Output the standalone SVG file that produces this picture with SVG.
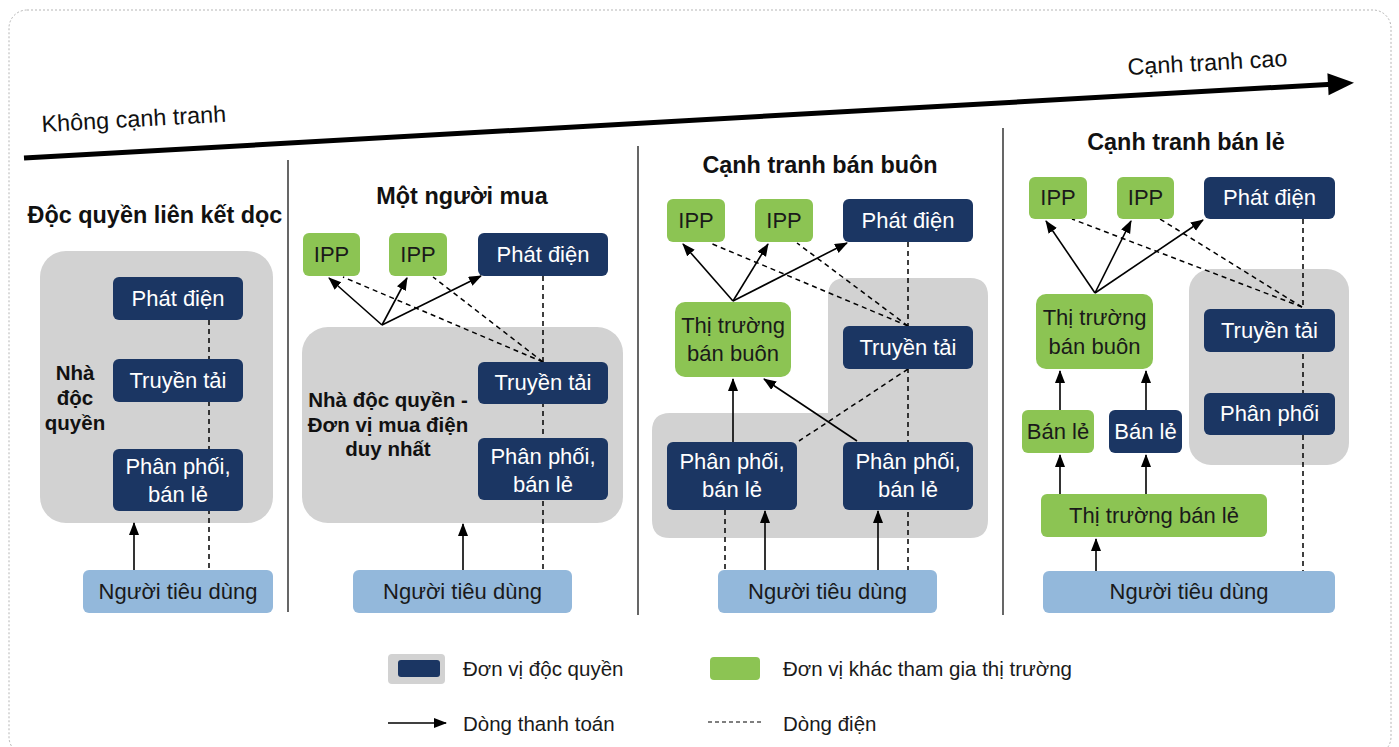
<svg xmlns="http://www.w3.org/2000/svg" width="1399" height="747" viewBox="0 0 1399 747">
  <defs>
    <marker id="arrow" markerUnits="userSpaceOnUse" markerWidth="13" markerHeight="11" refX="12" refY="5" orient="auto">
      <path d="M0,0 L13,5 L0,10 z" fill="#000"/>
    </marker>
    <style>
      text { font-family: "Liberation Sans", Arial, sans-serif; }
      .navy { fill: #1b3663; }
      .green { fill: #8cc453; }
      .zone { fill: #d2d2d2; }
      .consumer { fill: #93b8db; }
      .wt { fill: #ffffff; font-size: 22px; text-anchor: middle; }
      .dt { fill: #1a1a1a; font-size: 22px; text-anchor: middle; }
      .title { fill: #111; font-size: 23.4px; font-weight: bold; text-anchor: middle; }
      .label { fill: #111; font-size: 20.5px; font-weight: bold; text-anchor: middle; }
      .axis { fill: #111; font-size: 23.4px; }
      .pay { stroke: #000; stroke-width: 1.6; fill: none; marker-end: url(#arrow); }
      .power { stroke: #000; stroke-width: 1.5; fill: none; stroke-dasharray: 5 4; }
      .sep { stroke: #000; stroke-width: 1.2; }
      .legend { fill: #1a1a1a; font-size: 20.5px; }
    </style>
  </defs>

  <rect width="1399" height="747" fill="#ffffff"/>
  <rect x="9" y="10" width="1382" height="745" rx="18" fill="none" stroke="#b5b5b5" stroke-width="1" stroke-dasharray="2 2"/>

  <!-- competition scale -->
  <g id="scale">
    <line x1="24" y1="158" x2="1332" y2="84.2" stroke="#000" stroke-width="5"/>
    <polygon points="1354,82.8 1328.6,95.3 1327.4,73.3" fill="#000"/>
    <text class="axis" x="42" y="132" transform="rotate(-3.2 42 132)">Không cạnh tranh</text>
    <text class="axis" x="1128" y="75" transform="rotate(-3.2 1128 75)">Cạnh tranh cao</text>
  </g>

  <!-- panel separators -->
  <g id="separators">
    <line class="sep" x1="288" y1="160" x2="288" y2="612"/>
    <line class="sep" x1="638" y1="146" x2="638" y2="615"/>
    <line class="sep" x1="1003" y1="128" x2="1003" y2="615"/>
  </g>

  <!-- grouping zones -->
  <g id="zones">
    <rect class="zone" x="40" y="251" width="233" height="272" rx="26"/>
    <rect class="zone" x="302" y="327" width="321" height="196" rx="26"/>
    <path class="zone" d="M846 278 H970 Q988 278 988 296 V520 Q988 538 970 538 H670 Q652 538 652 520 V431 Q652 413 670 413 H828 V296 Q828 278 846 278 Z"/>
    <rect class="zone" x="1189" y="269" width="160" height="196" rx="22"/>
  </g>

  <!-- connectors -->
  <g id="connectors">
    <!-- panel 1 -->
    <line class="power" x1="209" y1="320" x2="209" y2="570"/>
    <line class="pay" x1="134" y1="570" x2="134" y2="523"/>
    <!-- panel 2 -->
    <line class="power" x1="543" y1="276" x2="543" y2="570"/>
    <line class="power" x1="543" y1="362" x2="343" y2="277"/>
    <line class="power" x1="543" y1="362" x2="433" y2="277"/>
    <line class="pay" x1="382" y1="325" x2="329" y2="278"/>
    <line class="pay" x1="382" y1="325" x2="407" y2="278"/>
    <line class="pay" x1="382" y1="325" x2="481" y2="276"/>
    <line class="pay" x1="463" y1="570" x2="463" y2="524"/>
    <!-- panel 3 -->
    <line class="power" x1="908" y1="242" x2="908" y2="570"/>
    <line class="power" x1="908" y1="326" x2="710" y2="243"/>
    <line class="power" x1="908" y1="326" x2="797" y2="243"/>
    <line class="power" x1="908" y1="369" x2="799" y2="441"/>
    <line class="power" x1="725" y1="510" x2="725" y2="570"/>
    <line class="pay" x1="733" y1="301" x2="683" y2="244"/>
    <line class="pay" x1="733" y1="301" x2="768" y2="244"/>
    <line class="pay" x1="733" y1="301" x2="847" y2="243"/>
    <line class="pay" x1="733" y1="442" x2="733" y2="379"/>
    <line class="pay" x1="857" y1="441" x2="764" y2="379"/>
    <line class="pay" x1="765" y1="570" x2="765" y2="511"/>
    <line class="pay" x1="878" y1="570" x2="878" y2="511"/>
    <!-- panel 4 -->
    <line class="power" x1="1303" y1="219" x2="1303" y2="571"/>
    <line class="power" x1="1302" y1="307" x2="1072" y2="219"/>
    <line class="power" x1="1302" y1="307" x2="1160" y2="219"/>
    <line class="pay" x1="1095" y1="293" x2="1046" y2="221"/>
    <line class="pay" x1="1095" y1="293" x2="1131" y2="221"/>
    <line class="pay" x1="1095" y1="293" x2="1203" y2="220"/>
    <line class="pay" x1="1060" y1="410" x2="1060" y2="371"/>
    <line class="pay" x1="1146" y1="410" x2="1146" y2="371"/>
    <line class="pay" x1="1060" y1="494" x2="1060" y2="455"/>
    <line class="pay" x1="1146" y1="494" x2="1146" y2="455"/>
    <line class="pay" x1="1096" y1="571" x2="1096" y2="539"/>
  </g>

  <!-- Panel 1: vertically integrated monopoly -->
  <g id="p1-title"><text class="title" x="155" y="223">Độc quyền liên kết dọc</text></g>
  <g id="p1-label">
    <text class="label" x="75" y="380">Nhà</text>
    <text class="label" x="75" y="405">độc</text>
    <text class="label" x="75" y="430">quyền</text>
  </g>
  <g id="p1-gen"><rect class="navy" x="113" y="277" width="130" height="43" rx="6"/><text class="wt" x="178" y="306">Phát điện</text></g>
  <g id="p1-trans"><rect class="navy" x="113" y="359" width="130" height="43" rx="6"/><text class="wt" x="178" y="388">Truyền tải</text></g>
  <g id="p1-dist"><rect class="navy" x="113" y="449" width="130" height="62" rx="6"/><text class="wt" x="178" y="474">Phân phối,</text><text class="wt" x="178" y="502">bán lẻ</text></g>
  <g id="p1-consumer"><rect class="consumer" x="83" y="570" width="190" height="43" rx="6"/><text class="dt" x="178" y="599">Người tiêu dùng</text></g>

  <!-- Panel 2: single buyer -->
  <g id="p2-title"><text class="title" x="462" y="204">Một người mua</text></g>
  <g id="p2-label">
    <text class="label" x="388" y="407">Nhà độc quyền -</text>
    <text class="label" x="388" y="432">Đơn vị mua điện</text>
    <text class="label" x="388" y="456">duy nhất</text>
  </g>
  <g id="p2-ipp1"><rect class="green" x="303" y="233" width="57" height="43" rx="6"/><text class="dt" x="331.5" y="262">IPP</text></g>
  <g id="p2-ipp2"><rect class="green" x="389" y="233" width="58" height="43" rx="6"/><text class="dt" x="418" y="262">IPP</text></g>
  <g id="p2-gen"><rect class="navy" x="478" y="233" width="130" height="43" rx="6"/><text class="wt" x="543" y="262">Phát điện</text></g>
  <g id="p2-trans"><rect class="navy" x="478" y="362" width="130" height="42" rx="6"/><text class="wt" x="543" y="390">Truyền tải</text></g>
  <g id="p2-dist"><rect class="navy" x="478" y="438" width="130" height="62" rx="6"/><text class="wt" x="543" y="464">Phân phối,</text><text class="wt" x="543" y="492">bán lẻ</text></g>
  <g id="p2-consumer"><rect class="consumer" x="353" y="570" width="219" height="43" rx="6"/><text class="dt" x="462.5" y="599">Người tiêu dùng</text></g>

  <!-- Panel 3: wholesale competition -->
  <g id="p3-title"><text class="title" x="820" y="173">Cạnh tranh bán buôn</text></g>
  <g id="p3-ipp1"><rect class="green" x="667" y="199" width="58" height="43" rx="6"/><text class="dt" x="696" y="228">IPP</text></g>
  <g id="p3-ipp2"><rect class="green" x="755" y="199" width="58" height="43" rx="6"/><text class="dt" x="784" y="228">IPP</text></g>
  <g id="p3-gen"><rect class="navy" x="843" y="199" width="130" height="43" rx="6"/><text class="wt" x="908" y="228">Phát điện</text></g>
  <g id="p3-wholesale"><rect class="green" x="675" y="302" width="116" height="75" rx="10"/><text class="dt" x="733" y="333">Thị trường</text><text class="dt" x="733" y="361">bán buôn</text></g>
  <g id="p3-trans"><rect class="navy" x="843" y="326" width="130" height="43" rx="6"/><text class="wt" x="908" y="355">Truyền tải</text></g>
  <g id="p3-dist1"><rect class="navy" x="667" y="442" width="130" height="68" rx="6"/><text class="wt" x="732" y="469">Phân phối,</text><text class="wt" x="732" y="497">bán lẻ</text></g>
  <g id="p3-dist2"><rect class="navy" x="843" y="442" width="130" height="68" rx="6"/><text class="wt" x="908" y="469">Phân phối,</text><text class="wt" x="908" y="497">bán lẻ</text></g>
  <g id="p3-consumer"><rect class="consumer" x="718" y="570" width="219" height="43" rx="6"/><text class="dt" x="827.5" y="599">Người tiêu dùng</text></g>

  <!-- Panel 4: retail competition -->
  <g id="p4-title"><text class="title" x="1186" y="150">Cạnh tranh bán lẻ</text></g>
  <g id="p4-ipp1"><rect class="green" x="1029" y="177" width="58" height="42" rx="6"/><text class="dt" x="1058" y="205">IPP</text></g>
  <g id="p4-ipp2"><rect class="green" x="1117" y="177" width="57" height="42" rx="6"/><text class="dt" x="1145.5" y="205">IPP</text></g>
  <g id="p4-gen"><rect class="navy" x="1204" y="177" width="131" height="42" rx="6"/><text class="wt" x="1269.5" y="205">Phát điện</text></g>
  <g id="p4-wholesale"><rect class="green" x="1036" y="294" width="117" height="75" rx="10"/><text class="dt" x="1094.5" y="325">Thị trường</text><text class="dt" x="1094.5" y="354">bán buôn</text></g>
  <g id="p4-trans"><rect class="navy" x="1204" y="309" width="131" height="43" rx="6"/><text class="wt" x="1269.5" y="338">Truyền tải</text></g>
  <g id="p4-dist"><rect class="navy" x="1204" y="393" width="131" height="42" rx="6"/><text class="wt" x="1269.5" y="421">Phân phối</text></g>
  <g id="p4-retail1"><rect class="green" x="1022" y="410" width="72" height="43" rx="6"/><text class="dt" x="1058" y="439">Bán lẻ</text></g>
  <g id="p4-retail2"><rect class="navy" x="1109" y="410" width="73" height="43" rx="6"/><text class="wt" x="1145.5" y="439">Bán lẻ</text></g>
  <g id="p4-retailmarket"><rect class="green" x="1041" y="494" width="226" height="43" rx="6"/><text class="dt" x="1154" y="523">Thị trường bán lẻ</text></g>
  <g id="p4-consumer"><rect class="consumer" x="1043" y="571" width="292" height="42" rx="6"/><text class="dt" x="1189" y="599">Người tiêu dùng</text></g>

  <!-- legend -->
  <g id="legend">
    <rect class="zone" x="388" y="654" width="57" height="30" rx="4"/>
    <rect class="navy" x="398" y="660" width="42" height="17" rx="3"/>
    <text class="legend" x="463" y="676">Đơn vị độc quyền</text>
    <rect class="green" x="710" y="657" width="50" height="23" rx="4"/>
    <text class="legend" x="783" y="676">Đơn vị khác tham gia thị trường</text>
    <line class="pay" x1="388" y1="723" x2="446" y2="723"/>
    <text class="legend" x="463" y="731">Dòng thanh toán</text>
    <line x1="708" y1="722" x2="763" y2="722" stroke="#000" stroke-width="1.2" stroke-dasharray="4 3"/>
    <text class="legend" x="783" y="731">Dòng điện</text>
  </g>
</svg>
